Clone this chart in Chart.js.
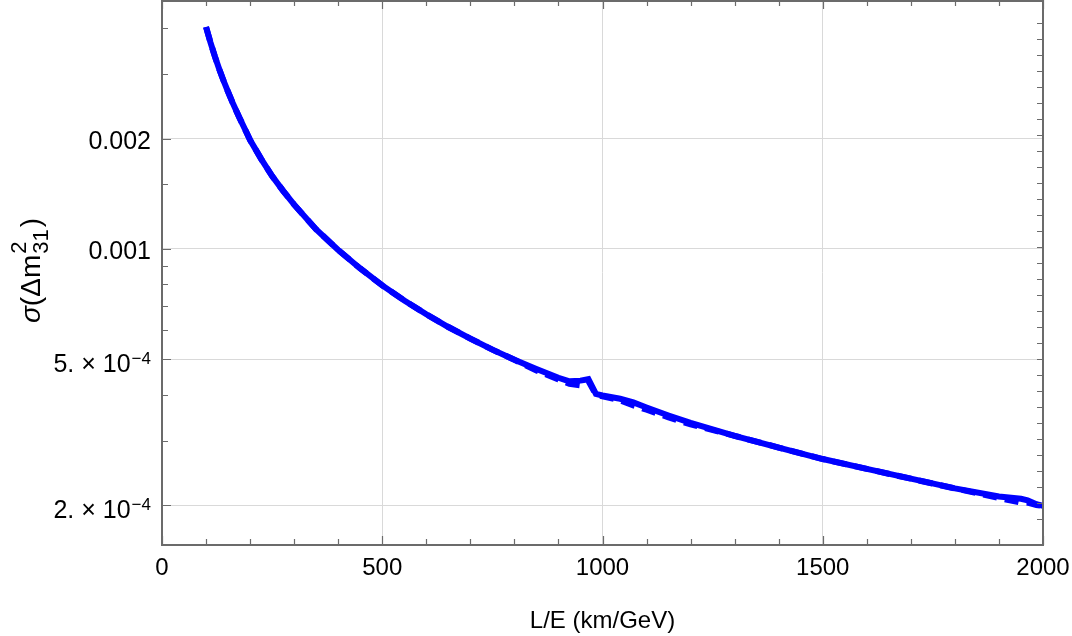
<!DOCTYPE html>
<html>
<head>
<meta charset="utf-8">
<script src="https://cdn.jsdelivr.net/npm/chart.js@4.4.1/dist/chart.umd.min.js"></script>
<style>
  body { margin: 0; background: #fff; }
</style>
</head>
<body>
<canvas id="chart" width="1072" height="636"></canvas>
<script>
// L/E values (km/GeV)
const lOverE = [100, 110, 120, 130, 140, 150, 160, 175, 190, 200, 225, 250, 275, 300, 350, 400, 450, 500,
  550, 600, 650, 700, 750, 800, 850, 900, 925, 950, 968, 985, 1000, 1040, 1070, 1100, 1150, 1200,
  1300, 1400, 1500, 1600, 1700, 1800, 1900, 1950, 1965, 1985, 2000];

// sigma(dm^2_31), solid curve
const sigmaSolid = [0.00403, 0.00366, 0.00335, 0.00309, 0.00287, 0.00268, 0.00251, 0.00229, 0.00210, 0.00198,
  0.00176, 0.00158, 0.00144, 0.00132, 0.00113, 0.000993, 0.000884, 0.000795,
  0.000723, 0.000663, 0.000612, 0.000569, 0.000531, 0.000498, 0.000470, 0.000445, 0.000435, 0.000437,
  0.000441, 0.000402, 0.000398, 0.000390, 0.000381, 0.000369, 0.000351, 0.000335,
  0.000309, 0.000287, 0.000267, 0.000251, 0.000236, 0.000222, 0.000211, 0.000208, 0.000206, 0.000201, 0.000199];

// sigma(dm^2_31), dashed curve
const sigmaDashed = [0.00403, 0.00366, 0.00335, 0.00309, 0.00287, 0.00268, 0.00251, 0.00229, 0.00210, 0.00198,
  0.00176, 0.00158, 0.00144, 0.00132, 0.00113, 0.000993, 0.000884, 0.000795,
  0.000723, 0.000663, 0.000612, 0.000569, 0.000531, 0.000498, 0.000466, 0.000440, 0.000428, 0.000424,
  0.000436, 0.000400, 0.000396, 0.000386, 0.000374, 0.000364, 0.000347, 0.000332,
  0.000309, 0.000287, 0.000267, 0.000251, 0.000236, 0.000222, 0.000209, 0.000203, 0.000203, 0.000200, 0.000199];

// axis ticks
const yTickValues = [0.0002, 0.0005, 0.001, 0.002];
const yTickMantissa = ['2. \u00d7 10', '5. \u00d7 10', '0.001', '0.002'];
const yTickExponent = ['\u22124', '\u22124', '', ''];
const yMinorTicks = [0.0003, 0.0004, 0.0006, 0.0007, 0.0008, 0.0009, 0.0015, 0.003, 0.004];

const FONT = '"Liberation Sans", Arial, sans-serif';
const frameColor = '#6b6b6b';
const gridColor = '#d9d9d9';

const toPoints = (xs, ys) => xs.map((x, i) => ({ x, y: ys[i] }));

// frame, inward tick marks, y labels and y title
const framePlugin = {
  id: 'frame',
  afterDraw(chart) {
    const { ctx, chartArea: a, scales } = chart;
    const x = scales.x, y = scales.y, y2 = scales.y2;
    ctx.save();
    ctx.strokeStyle = frameColor;
    ctx.lineWidth = 1.2;
    ctx.beginPath();
    // x ticks, bottom and top
    for (let v = 0; v <= 2000; v += 100) {
      const px = Math.round(x.getPixelForValue(v)) + 0.5;
      const len = v % 500 === 0 ? 9 : 6;
      ctx.moveTo(px, a.bottom); ctx.lineTo(px, a.bottom - len);
      ctx.moveTo(px, a.top); ctx.lineTo(px, a.top + len);
    }
    // y ticks, left
    yTickValues.forEach((v) => {
      const py = Math.round(y.getPixelForValue(v)) + 0.5;
      ctx.moveTo(a.left, py); ctx.lineTo(a.left + 9, py);
    });
    yMinorTicks.forEach((v) => {
      const py = Math.round(y.getPixelForValue(v)) + 0.5;
      ctx.moveTo(a.left, py); ctx.lineTo(a.left + 6, py);
    });
    // right side ticks
    y2.ticks.forEach((t) => {
      if (!Number.isInteger(t.value)) return;
      const py = Math.round(y2.getPixelForValue(t.value)) + 0.5;
      ctx.moveTo(a.right, py); ctx.lineTo(a.right - 6, py);
    });
    ctx.stroke();

    ctx.lineWidth = 2;
    ctx.strokeRect(a.left, a.top + 1, a.right - a.left, a.bottom - a.top - 1);

    // y tick labels
    ctx.fillStyle = '#000';
    ctx.textBaseline = 'alphabetic';
    ctx.textAlign = 'right';
    yTickValues.forEach((v, i) => {
      const py = y.getPixelForValue(v);
      let xr = a.left - 11;
      const exp = yTickExponent[i];
      const base = py + (exp ? 12.5 : 10);
      if (exp) {
        ctx.font = '17px ' + FONT;
        ctx.fillText(exp, xr, base - 8);
        xr -= ctx.measureText(exp).width + 1;
      }
      ctx.font = '25px ' + FONT;
      ctx.fillText(yTickMantissa[i], xr, base);
    });

    // y axis title: sigma(Delta m^2_31)
    ctx.translate(40, (a.top + a.bottom) / 2 - 2);
    ctx.rotate(-Math.PI / 2);
    ctx.textAlign = 'left';
    const big = '28px ' + FONT, small = '22px ' + FONT;
    const parts = [['\u03c3', 'italic ' + big], ['(\u0394m', big]];
    let w = 0;
    parts.forEach(([t, f]) => { ctx.font = f; w += ctx.measureText(t).width; });
    ctx.font = small;
    const wSup = Math.max(ctx.measureText('2').width, ctx.measureText('31').width);
    ctx.font = big;
    const wClose = ctx.measureText(')').width;
    let cx = -(w + wSup + 3 + wClose) / 2;
    parts.forEach(([t, f]) => {
      ctx.font = f;
      ctx.fillText(t, cx, 0);
      cx += ctx.measureText(t).width;
    });
    ctx.font = small;
    ctx.fillText('2', cx + 1, -14);
    ctx.fillText('31', cx + 1, 8);
    cx += wSup + 3;
    ctx.font = big;
    ctx.fillText(')', cx, 0);
    ctx.restore();
  }
};

new Chart(document.getElementById('chart'), {
  type: 'line',
  data: {
    datasets: [
      {
        label: 'solid',
        data: toPoints(lOverE, sigmaSolid),
        borderColor: '#0000ff',
        borderWidth: 6,
        pointRadius: 0,
        tension: 0,
      },
      {
        label: 'dashed',
        data: toPoints(lOverE, sigmaDashed),
        borderColor: '#0000ff',
        borderWidth: 6,
        borderDash: [14, 8],
        pointRadius: 0,
        tension: 0,
      },
    ],
  },
  options: {
    responsive: false,
    animation: false,
    layout: { padding: { left: 0, right: 29, top: 0, bottom: 0 } },
    plugins: {
      legend: { display: false },
      tooltip: { enabled: false },
    },
    scales: {
      x: {
        type: 'linear',
        min: 0,
        max: 2000,
        border: { display: false },
        grid: {
          drawTicks: false,
          color: (c) => (c.tick && (c.tick.value === 0 || c.tick.value === 2000) ? 'rgba(0,0,0,0)' : gridColor),
        },
        ticks: {
          stepSize: 500,
          padding: 9,
          color: '#000',
          font: { family: FONT, size: 24 },
          callback: (v) => String(v),
        },
        title: {
          display: true,
          text: 'L/E (km/GeV)',
          color: '#000',
          font: { family: FONT, size: 24 },
          padding: { top: 0, bottom: 0 },
        },
        afterFit: (s) => { s.height = 91; s.paddingLeft = 0; s.paddingRight = 0; },
      },
      y: {
        type: 'logarithmic',
        min: 0.0001556,
        max: 0.004775,
        border: { display: false },
        grid: { drawTicks: false, color: gridColor },
        ticks: { display: false },
        afterBuildTicks: (s) => { s.ticks = yTickValues.map((v) => ({ value: v })); },
        afterFit: (s) => { s.width = 162; },
      },
      y2: {
        type: 'linear',
        position: 'right',
        min: -12.625,
        max: 21.44,
        border: { display: false },
        grid: { display: false, drawTicks: false },
        ticks: { display: false, stepSize: 1 },
        afterFit: (s) => { s.width = 0; },
      },
    },
  },
  plugins: [framePlugin],
});
</script>
</body>
</html>
